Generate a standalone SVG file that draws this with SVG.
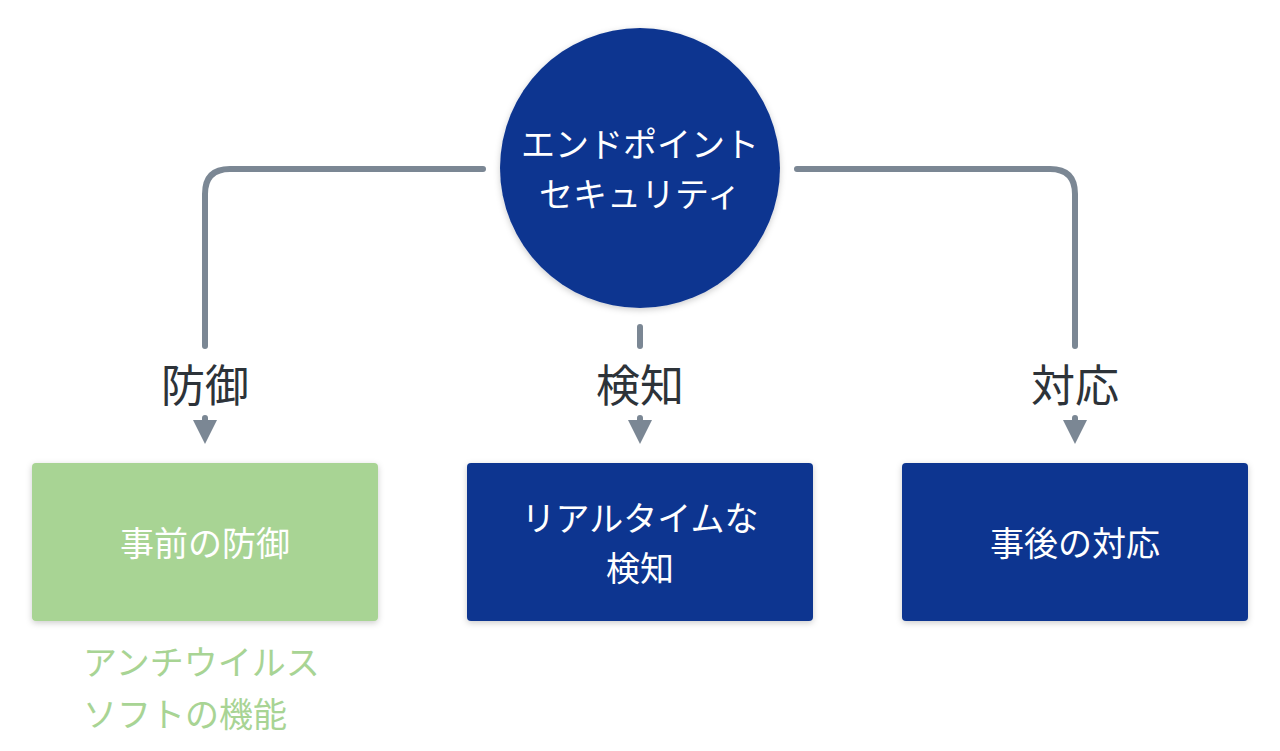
<svg xmlns="http://www.w3.org/2000/svg" width="1280" height="751" viewBox="0 0 1280 751">
<defs>
<style>
.ln{fill:none;stroke:#7b8794;stroke-width:6;stroke-linecap:round;stroke-linejoin:round}
.t{font-family:"Noto Sans CJK JP",sans-serif}
.w{fill:#fff;font-size:34px;text-anchor:middle}
.lab{fill:#2d3339;font-size:44px;text-anchor:middle}
.nav{fill:#0f3690}
</style>
<marker id="ah" viewBox="0 0 10 10" refX="5" refY="5" markerWidth="4" markerHeight="4" orient="auto" markerUnits="strokeWidth"><path d="M0,0 L10,5 L0,10 z" fill="#7b8794"/></marker>
<filter id="sh" x="-10%" y="-10%" width="120%" height="130%"><feDropShadow dx="0" dy="2" stdDeviation="3" flood-opacity="0.2"/></filter>
</defs>
<rect width="1280" height="751" fill="#fff"/>
<g id="connectors">
<path class="ln" d="M483,169 H230 Q205,169 205,194 V346"/>
<path class="ln" d="M797,169 H1050 Q1075,169 1075,194 V346"/>
<path class="ln" d="M640,327 V346"/>
<path class="ln" d="M205,418 V432" marker-end="url(#ah)"/>
<path class="ln" d="M640,418 V432" marker-end="url(#ah)"/>
<path class="ln" d="M1075,418 V432" marker-end="url(#ah)"/>
</g>
<g id="root"><circle cx="640" cy="168" r="140" class="nav" filter="url(#sh)"/>
<text class="t w" x="640" y="157">エンドポイント</text><text class="t w" x="640" y="207">セキュリティ</text></g>
<g id="lab1"><text class="t lab" x="205" y="402">防御</text></g>
<g id="lab2"><text class="t lab" x="640" y="402">検知</text></g>
<g id="lab3"><text class="t lab" x="1075" y="402">対応</text></g>
<g id="box1"><rect x="32" y="463" width="346" height="158" rx="4" fill="#a8d494" filter="url(#sh)"/>
<text class="t w" x="205" y="556">事前の防御</text></g>
<g id="box2"><rect x="467" y="463" width="346" height="158" rx="4" class="nav" filter="url(#sh)"/>
<text class="t w" x="640" y="531">リアルタイムな</text><text class="t w" x="640" y="581">検知</text></g>
<g id="box3"><rect x="902" y="463" width="346" height="158" rx="4" class="nav" filter="url(#sh)"/>
<text class="t w" x="1075" y="556">事後の対応</text></g>
<g id="note"><text class="t" x="83" y="675" font-size="34" fill="#a8d494">アンチウイルス</text><text class="t" x="83" y="727" font-size="34" fill="#a8d494">ソフトの機能</text></g>
</svg>
